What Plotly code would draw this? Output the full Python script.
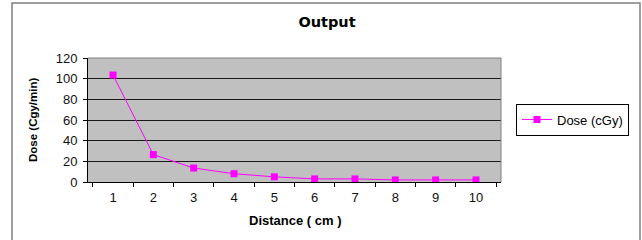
import plotly.graph_objects as go

categories = ["1", "2", "3", "4", "5", "6", "7", "8", "9", "10"]
dose = [103.5, 26.5, 13.5, 8, 5, 3, 3, 2, 2, 2]
y_ticks = [0, 20, 40, 60, 80, 100, 120]
series_name = "Dose (cGy)"
chart_title = "Output"
x_title = "Distance ( cm )"
y_title = "Dose (Cgy/min)"

W, H = 642, 240
L, R, T, B = 88, 501, 58, 182  # plot area in pixels
pw, ph = R - L, B - T

def px(x):
    return (x - L) / pw

def py(y):
    return (B - y) / ph

fig = go.Figure()
fig.add_trace(go.Scatter(
    x=categories, y=dose, name=series_name, mode="lines+markers",
    line=dict(color="#FF00FF", width=1),
    marker=dict(symbol="square", size=7, color="#FF00FF"),
))

tick_font = dict(family="Liberation Sans, Arial", size=13, color="#111")
fig.update_layout(
    width=W, height=H,
    margin=dict(l=L, r=W - R, t=T, b=H - B, pad=0),
    paper_bgcolor="white", plot_bgcolor="#C0C0C0",
    showlegend=True,
    title=dict(text=chart_title, x=327 / W, xanchor="center", xref="container",
               y=1 - 22 / H, yanchor="middle", yref="container",
               font=dict(family="DejaVu Sans", size=14.5, color="#000", weight="bold")),
    legend=dict(x=px(516), y=py(119.5), xanchor="left", yanchor="middle",
                bordercolor="#000", borderwidth=1, bgcolor="white",
                font=dict(family="Liberation Sans, Arial", size=13, color="#000"),
                itemwidth=30),
    xaxis=dict(type="category", tickson="boundaries", ticks="outside", ticklen=4,
               tickcolor="#000", showline=True, linecolor="#000", linewidth=1,
               showgrid=False, tickfont=tick_font, zeroline=False,
               ticklabelstandoff=3),
    yaxis=dict(range=[0, 120], tickvals=y_ticks, ticks="outside", ticklen=4,
               tickcolor="#000", showline=True, linecolor="#000", linewidth=1,
               showgrid=True, gridcolor="#1a1a1a", gridwidth=1, zeroline=False,
               tickfont=tick_font, ticklabelstandoff=3),
    annotations=[
        dict(text=f"<b>{x_title}</b>", xref="paper", yref="paper", x=0.5, y=py(220),
             xanchor="center", yanchor="middle", showarrow=False,
             font=dict(family="Liberation Sans, Arial", size=13, color="#000")),
        dict(text=f"<b>{y_title}</b>", xref="paper", yref="paper", x=px(33), y=0.5,
             xanchor="center", yanchor="middle", showarrow=False, textangle=-90,
             font=dict(family="Liberation Sans, Arial", size=11.5, color="#000")),
    ],
    shapes=[
        dict(type="rect", xref="paper", yref="paper", x0=px(12), x1=px(640),
             y0=py(260), y1=py(3), line=dict(color="#808080", width=1.5),
             fillcolor="rgba(0,0,0,0)", layer="below"),
        dict(type="line", xref="paper", yref="paper", x0=0, x1=1, y0=1, y1=1,
             line=dict(color="#808080", width=1), layer="above"),
        dict(type="line", xref="paper", yref="paper", x0=1, x1=1, y0=0, y1=1,
             line=dict(color="#808080", width=1), layer="above"),
    ],
)

fig.write_html("out.html", config={"displayModeBar": False},
               post_script="document.body.style.margin='0';document.body.style.overflow='hidden';")
